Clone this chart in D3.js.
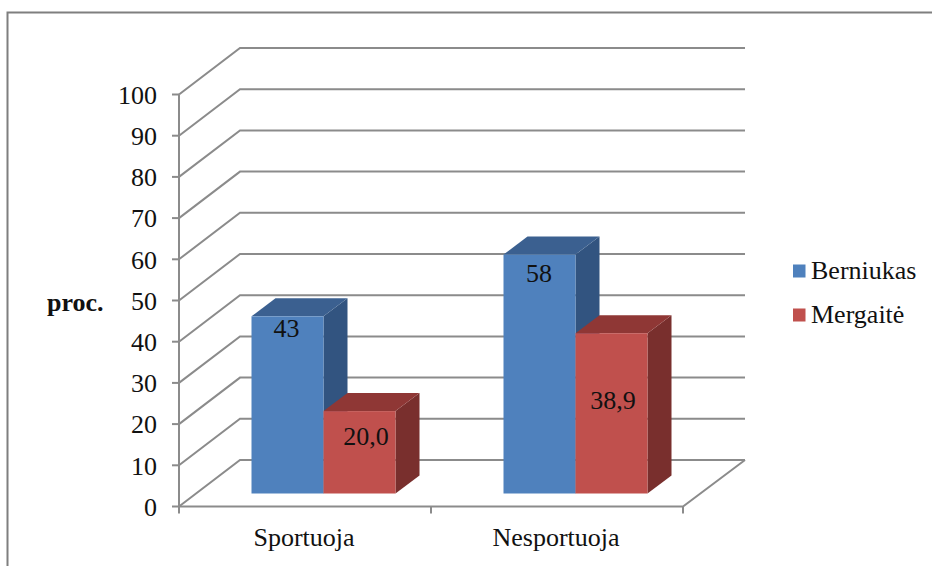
<!DOCTYPE html>
<html>
<head>
<meta charset="utf-8">
<script src="https://cdn.jsdelivr.net/npm/d3@7"></script>
<style>
  html, body { margin: 0; padding: 0; background: #fff; }
  text { font-family: "Liberation Serif", serif; fill: #111; }
</style>
</head>
<body>
<svg id="chart" width="932" height="566"></svg>
<script>
const categories = ["Sportuoja", "Nesportuoja"];
const seriesNames = ["Berniukas", "Mergaitė"];
const berniukas = [43, 58];
const mergaite = [20.0, 38.9];
const valueLabels = [["43", "20,0"], ["58", "38,9"]];
const yTicks = [0, 10, 20, 30, 40, 50, 60, 70, 80, 90, 100];
const axisTitle = "proc.";

const faceColors = [
  { front: "#4f81bd", top: "#3b6090", side: "#325480" },
  { front: "#c0504d", top: "#8f3735", side: "#792f2d" }
];
const gridColor = "#8b8b8b";
const fontSize = 26;

const svg = d3.select("#chart");

// Frame around the chart area
svg.append("path")
  .attr("d", "M7.5,566V12.5H932")
  .attr("fill", "none")
  .attr("stroke", "#7f7f7f")
  .attr("stroke-width", 2);

// Front plane of the 3D box and its depth offset
const y = d3.scaleLinear().domain([0, 100]).range([506.5, 94.5]);
const x0 = d3.scaleBand().domain(categories).range([179, 683]);
const x1 = d3.scaleBand().domain(seriesNames).range([72.5, 216.5]);
const depth = { dx: 61, dy: -46.5 };
const barDepth = { dx: 24, dy: -18 };
const barLift = 13;
const grid = svg.append("g").attr("fill", "none").attr("stroke", gridColor).attr("stroke-width", 2);

// Gridlines: slanted along the side wall, then straight across the back wall
grid.selectAll("path.wall").data(yTicks).join("path")
  .attr("class", "wall")
  .attr("d", d => {
    const p = d3.path();
    p.moveTo(x0.range()[0], y(d));
    p.lineTo(x0.range()[0] + depth.dx, y(d) + depth.dy);
    p.lineTo(x0.range()[1] + depth.dx + 1, y(d) + depth.dy);
    return p.toString();
  });

// Floor edges
const floor = d3.path();
floor.moveTo(x0.range()[0], y(0));
floor.lineTo(x0.range()[1], y(0));
floor.lineTo(x0.range()[1] + depth.dx + 1, y(0) + depth.dy);
grid.append("path").attr("d", floor.toString());

// Value axis line, tick marks and labels
grid.append("line")
  .attr("x1", 179).attr("x2", 179)
  .attr("y1", y(100)).attr("y2", y(0) + 1);
grid.selectAll("line.tick").data(yTicks).join("line")
  .attr("class", "tick")
  .attr("x1", 172).attr("x2", 179)
  .attr("y1", d => y(d)).attr("y2", d => y(d));
svg.append("g").selectAll("text").data(yTicks).join("text")
  .attr("x", 157)
  .attr("y", d => y(d))
  .attr("dy", "0.36em")
  .attr("text-anchor", "end")
  .attr("font-size", fontSize)
  .text(d => d);

// Category tick marks and labels
const catTicks = [x0.range()[0], x0.range()[0] + x0.bandwidth(), x0.range()[1]];
grid.selectAll("line.cat").data(catTicks).join("line")
  .attr("class", "cat")
  .attr("x1", d => d).attr("x2", d => d)
  .attr("y1", y(0)).attr("y2", y(0) + 7);
svg.append("g").selectAll("text").data(categories).join("text")
  .attr("x", d => x0(d) + x0.bandwidth() / 2 - 1)
  .attr("y", 546)
  .attr("text-anchor", "middle")
  .attr("font-size", fontSize)
  .text(d => d);

// Bars: each one a front, top and side face
const seriesValues = [berniukas, mergaite];
categories.forEach((cat, ci) => {
  seriesNames.forEach((name, si) => {
    const value = seriesValues[si][ci];
    const left = x0(cat) + x1(name);
    const right = left + x1.bandwidth();
    const bottom = y(0) - barLift;
    const top = y(value) - barLift;
    const c = faceColors[si];
    const d = barDepth;
    const g = svg.append("g");
    g.append("path").attr("fill", c.side)
      .attr("d", `M${right},${top}L${right + d.dx},${top + d.dy}L${right + d.dx},${bottom + d.dy}L${right},${bottom}Z`);
    g.append("path").attr("fill", c.top)
      .attr("d", `M${left},${top}L${left + d.dx},${top + d.dy}L${right + d.dx},${top + d.dy}L${right},${top}Z`);
    g.append("rect").attr("fill", c.front)
      .attr("x", left).attr("y", top)
      .attr("width", x1.bandwidth()).attr("height", bottom - top);
  });
});

// Value labels go on last so neighbouring bars never cover them;
// each sits at its own nudge from the bar's top edge and centre
const labelNudge = [[{ x: -1, y: 21 }, { x: 6.5, y: 33.5 }], [{ x: -0.5, y: 27.5 }, { x: 1.5, y: 76 }]];
const labelLayer = svg.append("g");
categories.forEach((cat, ci) => {
  seriesNames.forEach((name, si) => {
    const value = seriesValues[si][ci];
    const n = labelNudge[ci][si];
    labelLayer.append("text")
      .attr("x", x0(cat) + x1(name) + x1.bandwidth() / 2 + n.x)
      .attr("y", y(value) - barLift + n.y)
      .attr("text-anchor", "middle")
      .attr("font-size", fontSize)
      .text(valueLabels[ci][si]);
  });
});

// Axis title
svg.append("text")
  .attr("x", 47).attr("y", 311)
  .attr("font-size", fontSize)
  .attr("font-weight", "bold")
  .text(axisTitle);

// Legend
const legendY = d3.scalePoint().domain(seriesNames).range([271, 315]);
const legend = svg.append("g").selectAll("g").data(seriesNames).join("g")
  .attr("transform", d => `translate(793,${legendY(d)})`);
legend.append("rect")
  .attr("x", 0).attr("y", -6.5)
  .attr("width", 12.5).attr("height", 13)
  .attr("fill", (d, i) => faceColors[i].front);
legend.append("text")
  .attr("x", 18).attr("y", 8)
  .attr("font-size", fontSize)
  .text(d => d);
</script>
</body>
</html>
